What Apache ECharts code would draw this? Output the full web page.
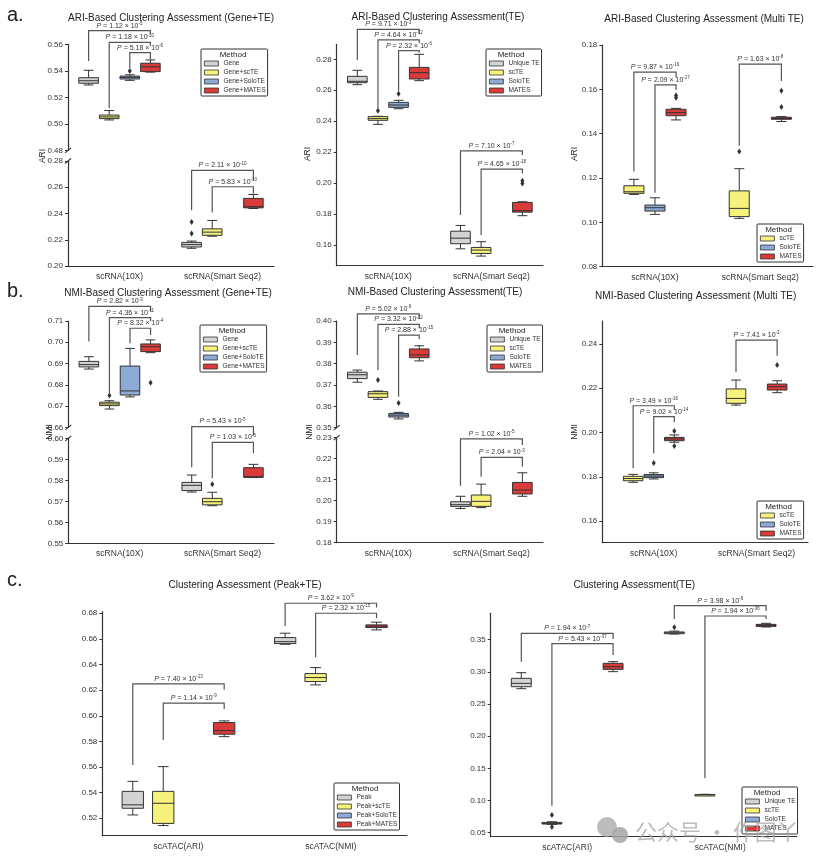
<!DOCTYPE html>
<html><head><meta charset="utf-8">
<script src="https://cdn.jsdelivr.net/npm/echarts@6/dist/echarts.min.js"></script>
<style>html,body{margin:0;padding:0;background:#fff}#c{width:818px;height:865px}</style>
</head><body><div id="c"></div>
<script>
// ---------------- DATA ----------------
const SCRNA_CATS = ['scRNA(10X)', 'scRNA(Smart Seq2)'];
const SCATAC_CATS = ['scATAC(ARI)', 'scATAC(NMI)'];
const GENE_METHODS = ['Gene', 'Gene+scTE', 'Gene+SoloTE', 'Gene+MATES'];
const TE_METHODS = ['Unique TE', 'scTE', 'SoloTE', 'MATES'];
const MULTI_METHODS = ['scTE', 'SoloTE', 'MATES'];
const PEAK_METHODS = ['Peak', 'Peak+scTE', 'Peak+SoloTE', 'Peak+MATES'];

// box stats per category: [min, q1, median, q3, max]
const A1_GENE   = [[0.5293,0.5306,0.5325,0.5348,0.5404],[0.2135,0.2145,0.2163,0.2180,0.2190]];
const A1_SCTE   = [[0.5029,0.5039,0.5052,0.5066,0.5100],[0.2227,0.2234,0.2258,0.2283,0.2347]];
const A1_SOLOTE = [[0.5328,0.5338,0.5350,0.5360,0.5370], null];
const A1_MATES  = [[0.5390,0.5394,0.5430,0.5457,0.5482],[0.2438,0.2443,0.2452,0.2515,0.2545]];
const A1_OUTLIERS = [[0,1,0.2247],[0,1,0.2336],[2,0,0.5398]]; // [method, category, value]
const A1_BRACKETS = [[0,0,3,0.5703,0.5474,0.5676],[0,1,3,0.5615,0.5117,0.5590],[0,2,3,0.5537,0.5419,0.5481],
                     [1,0,3,0.2729,0.2425,0.2655],[1,1,3,0.2604,0.2408,0.2553]]; // [cat, from, to, line, leftEnd, rightEnd]
const A1_PVALUES = [['1.12','-5'],['1.18','-10'],['5.18','-6'],['2.11','-10'],['5.83','-10']];
const A1_TICKS_UP = [0.48,0.50,0.52,0.54,0.56];
const A1_TICKS_LOW = [0.20,0.22,0.24,0.26,0.28];

const A2_UNIQUE = [[0.2636,0.2649,0.2658,0.2690,0.2729],[0.1576,0.1609,0.1645,0.1690,0.1727]];
const A2_SCTE   = [[0.2380,0.2406,0.2417,0.2430,0.2432],[0.1529,0.1546,0.1568,0.1585,0.1622]];
const A2_SOLOTE = [[0.2481,0.2490,0.2505,0.2522,0.2535], null];
const A2_MATES  = [[0.2662,0.2673,0.2714,0.2748,0.2832],[0.1790,0.1813,0.1822,0.1876,0.1880]];
const A2_OUTLIERS = [[1,0,0.2468],[2,0,0.2578],[3,1,0.2015],[3,1,0.1998]];
const A2_BRACKETS = [[0,0,3,0.2994,0.2796,0.2968],[0,1,3,0.2925,0.2483,0.2903],[0,2,3,0.2856,0.2597,0.2843],
                     [1,0,3,0.2208,0.1794,0.2182],[1,1,3,0.2091,0.1665,0.2063]];
const A2_PVALUES = [['9.71','-3'],['4.64','-12'],['2.32','-6'],['7.10','-7'],['4.65','-18']];
const A2_TICKS = [0.16,0.18,0.20,0.22,0.24,0.26,0.28];

const A3_SCTE   = [[0.1126,0.1131,0.1138,0.1165,0.1194],[0.1018,0.1026,0.1063,0.1142,0.1242]];
const A3_SOLOTE = [[0.1036,0.1051,0.1066,0.1078,0.1111], null];
const A3_MATES  = [[0.1462,0.1481,0.1495,0.1510,0.1514],[0.1455,0.1465,0.1469,0.1474,0.1477]];
const A3_OUTLIERS = [[2,0,0.1572],[2,0,0.1562],[0,1,0.1320],[2,1,0.1594],[2,1,0.1520]];
const A3_BRACKETS = [[0,0,2,0.1678,0.1229,0.1654],[0,1,2,0.1620,0.1134,0.1597],[1,0,2,0.1714,0.1346,0.1638]];
const A3_PVALUES = [['9.87','-16'],['2.09','-17'],['1.63','-8']];
const A3_TICKS = [0.08,0.10,0.12,0.14,0.16,0.18];

const B1_GENE   = [[0.6874,0.6884,0.6895,0.6910,0.6932],[0.5744,0.5751,0.5776,0.5790,0.5825]];
const B1_SCTE   = [[0.6686,0.6702,0.6710,0.6718,0.6725],[0.5679,0.5683,0.5698,0.5714,0.5743]];
const B1_SOLOTE = [[0.6743,0.6752,0.6771,0.6888,0.6971], null];
const B1_MATES  = [[0.6951,0.6956,0.6979,0.6992,0.7011],[0.5813,0.5814,0.5817,0.5860,0.5876]];
const B1_OUTLIERS = [[1,0,0.6749],[3,0,0.6810],[1,1,0.5781]];
const B1_BRACKETS = [[0,0,3,0.7169,0.7003,0.7147],[0,1,3,0.7116,0.6760,0.7100],[0,2,3,0.7066,0.6995,0.7034],
                     [1,0,3,0.6056,0.5862,0.6013],[1,1,3,0.5981,0.5810,0.5929]];
const B1_PVALUES = [['2.82','-3'],['4.36','-11'],['8.32','-4'],['5.43','-5'],['1.03','-5']];
const B1_TICKS_UP = [0.66,0.67,0.68,0.69,0.70,0.71];
const B1_TICKS_LOW = [0.55,0.56,0.57,0.58,0.59,0.60];

const B2_UNIQUE = [[0.3713,0.3730,0.3748,0.3760,0.3770],[0.1963,0.1973,0.1981,0.1995,0.2021]];
const B2_SCTE   = [[0.3633,0.3642,0.3659,0.3669,0.3672],[0.1967,0.1973,0.1997,0.2027,0.2079]];
const B2_SOLOTE = [[0.3541,0.3550,0.3559,0.3567,0.3572], null];
const B2_MATES  = [[0.3813,0.3828,0.3841,0.3869,0.3884],[0.2021,0.2032,0.2051,0.2087,0.2133]];
const B2_OUTLIERS = [[1,0,0.3723],[2,0,0.3616]];
const B2_BRACKETS = [[0,0,3,0.4033,0.3841,0.4009],[0,1,3,0.3984,0.3770,0.3966],[0,2,3,0.3934,0.3645,0.3916],
                     [1,0,3,0.2294,0.2071,0.2265],[1,1,3,0.2206,0.2114,0.2162]];
const B2_PVALUES = [['5.02','-9'],['3.32','-12'],['2.88','-15'],['1.02','-5'],['2.04','-3']];
const B2_TICKS_UP = [0.35,0.36,0.37,0.38,0.39,0.40];
const B2_TICKS_LOW = [0.18,0.19,0.20,0.21,0.22,0.23];

const B3_SCTE   = [[0.1775,0.1782,0.1792,0.1802,0.1811],[0.2124,0.2132,0.2154,0.2197,0.2237]];
const B3_SOLOTE = [[0.1790,0.1796,0.1803,0.1810,0.1818], null];
const B3_MATES  = [[0.1956,0.1963,0.1971,0.1978,0.1989],[0.2180,0.2192,0.2207,0.2219,0.2234]];
const B3_OUTLIERS = [[1,0,0.1862],[2,0,0.2007],[2,0,0.1939],[2,1,0.2305]];
const B3_BRACKETS = [[0,0,2,0.2121,0.1838,0.2102],[0,1,2,0.2072,0.1906,0.2046],[1,0,2,0.2418,0.2272,0.2347]];
const B3_PVALUES = [['3.49','-16'],['9.02','-14'],['7.41','-3']];
const B3_TICKS = [0.16,0.18,0.20,0.22,0.24];

const C1_PEAK   = [[0.5226,0.5278,0.5305,0.5410,0.5488],[0.6558,0.6563,0.6578,0.6610,0.6644]];
const C1_SCTE   = [[0.5143,0.5160,0.5317,0.5410,0.5603],[0.6241,0.6267,0.6298,0.6329,0.6376]];
const C1_SOLOTE = [null, null];
const C1_MATES  = [[0.5837,0.5856,0.5884,0.5947,0.5960],[0.6670,0.6688,0.6699,0.6709,0.6730]];
const C1_OUTLIERS = [];
const C1_BRACKETS = [[0,0,3,0.6248,0.5616,0.6202],[0,1,3,0.6098,0.5811,0.6053],
                     [1,0,3,0.6878,0.6701,0.6844],[1,1,3,0.6800,0.6457,0.6761]];
const C1_PVALUES = [['7.40','-13'],['1.14','-9'],['3.62','-9'],['2.32','-15']];
const C1_TICKS = [0.52,0.54,0.56,0.58,0.60,0.62,0.64,0.66,0.68];

const C2_UNIQUE = [[0.2738,0.2769,0.2821,0.2899,0.2987],[0.3588,0.3593,0.3607,0.3620,0.3633]];
const C2_SCTE   = [[0.0630,0.0635,0.0645,0.0660,0.0670],[0.1082,0.1085,0.1090,0.1094,0.1097]];
const C2_SOLOTE = [null, null];
const C2_MATES  = [[0.3003,0.3039,0.3080,0.3132,0.3158],[0.3697,0.3707,0.3722,0.3738,0.3754]];
const C2_OUTLIERS = [[1,0,0.0775],[1,0,0.0590],[0,1,0.3692]];
const C2_BRACKETS = [[0,0,3,0.3598,0.3158,0.3510],[0,1,3,0.3438,0.0920,0.3262],
                     [1,0,3,0.4028,0.3821,0.3946],[1,1,3,0.3868,0.1345,0.3821]];
const C2_PVALUES = [['1.94','-7'],['5.43','-37'],['3.98','-9'],['1.94','-36']];
const C2_TICKS = [0.05,0.10,0.15,0.20,0.25,0.30,0.35];

// ---------------- STYLE / LAYOUT ----------------
const FONT = '"Liberation Sans", Arial, Helvetica, sans-serif';
const GRAY = '#d3d3d3', YELLOW = '#f6f27c', BLUE = '#8eabd6', RED = '#d93b3b';
const METHOD_COLOR = {
  'Gene': GRAY, 'Unique TE': GRAY, 'Peak': GRAY,
  'Gene+scTE': YELLOW, 'scTE': YELLOW, 'Peak+scTE': YELLOW,
  'Gene+SoloTE': BLUE, 'SoloTE': BLUE, 'Peak+SoloTE': BLUE,
  'Gene+MATES': RED, 'MATES': RED, 'Peak+MATES': RED
};
const EDGE = '#333';
const AXIS = '#333';
const BRACKET = '#555';
const SLOT = 0.2;

const panels = [
  { cats: SCRNA_CATS, methods: GENE_METHODS, stats: [A1_GENE, A1_SCTE, A1_SOLOTE, A1_MATES],
    outliers: A1_OUTLIERS, brackets: A1_BRACKETS, pvals: A1_PVALUES, boxFrac: 0.19,
    grids: [{ left: 68, top: 44.3, width: 206, height: 106, min: 0.48, max: 0.56, ticks: A1_TICKS_UP, cats: [0] },
            { left: 68, top: 161, width: 206, height: 105, min: 0.20, max: 0.28, ticks: A1_TICKS_LOW, cats: [1] }],
    legend: { left: 201, top: 49, cx: 233 }, yName: ['ARI', 42.7, 156],
    title: ['ARI-Based Clustering Assessment (Gene+TE)', 171, 18] },
  { cats: SCRNA_CATS, methods: TE_METHODS, stats: [A2_UNIQUE, A2_SCTE, A2_SOLOTE, A2_MATES],
    outliers: A2_OUTLIERS, brackets: A2_BRACKETS, pvals: A2_PVALUES, boxFrac: 0.19,
    grids: [{ left: 336.7, top: 44.3, width: 206.3, height: 221.4, min: 0.1467, max: 0.2897, ticks: A2_TICKS, cats: [0, 1] }],
    legend: { left: 486, top: 49, cx: 511 }, yName: ['ARI', 308, 154],
    title: ['ARI-Based Clustering Assessment(TE)', 438, 17.7] },
  { cats: SCRNA_CATS, methods: MULTI_METHODS, stats: [A3_SCTE, A3_SOLOTE, A3_MATES],
    outliers: A3_OUTLIERS, brackets: A3_BRACKETS, pvals: A3_PVALUES, boxFrac: 0.19,
    grids: [{ left: 602.3, top: 45, width: 210.7, height: 221.7, min: 0.08, max: 0.18, ticks: A3_TICKS, cats: [0, 1] }],
    legend: { left: 757, top: 224, cx: 778.5 }, yName: ['ARI', 575, 154],
    title: ['ARI-Based Clustering Assessment (Multi TE)', 704, 19.3] },
  { cats: SCRNA_CATS, methods: GENE_METHODS, stats: [B1_GENE, B1_SCTE, B1_SOLOTE, B1_MATES],
    outliers: B1_OUTLIERS, brackets: B1_BRACKETS, pvals: B1_PVALUES, boxFrac: 0.19,
    grids: [{ left: 68.3, top: 321, width: 205.7, height: 106.3, min: 0.66, max: 0.71, ticks: B1_TICKS_UP, cats: [0] },
            { left: 68.3, top: 438.3, width: 205.7, height: 105, min: 0.55, max: 0.60, ticks: B1_TICKS_LOW, cats: [1] }],
    legend: { left: 200, top: 325, cx: 232 }, yName: ['NMI', 50, 432],
    title: ['NMI-Based Clustering Assessment (Gene+TE)', 168, 293.3] },
  { cats: SCRNA_CATS, methods: TE_METHODS, stats: [B2_UNIQUE, B2_SCTE, B2_SOLOTE, B2_MATES],
    outliers: B2_OUTLIERS, brackets: B2_BRACKETS, pvals: B2_PVALUES, boxFrac: 0.19,
    grids: [{ left: 336.7, top: 321, width: 206.3, height: 106.7, min: 0.35, max: 0.40, ticks: B2_TICKS_UP, cats: [0] },
            { left: 336.7, top: 437.7, width: 206.3, height: 105, min: 0.18, max: 0.23, ticks: B2_TICKS_LOW, cats: [1] }],
    legend: { left: 487, top: 325, cx: 512 }, yName: ['NMI', 310, 432],
    title: ['NMI-Based Clustering Assessment(TE)', 435, 292.3] },
  { cats: SCRNA_CATS, methods: MULTI_METHODS, stats: [B3_SCTE, B3_SOLOTE, B3_MATES],
    outliers: B3_OUTLIERS, brackets: B3_BRACKETS, pvals: B3_PVALUES, boxFrac: 0.19,
    grids: [{ left: 602.3, top: 321, width: 205.7, height: 221.7, min: 0.1502, max: 0.2504, ticks: B3_TICKS, cats: [0, 1] }],
    legend: { left: 757, top: 501, cx: 778.5 }, yName: ['NMI', 575, 432],
    title: ['NMI-Based Clustering Assessment (Multi TE)', 695.7, 296.7] },
  { cats: SCATAC_CATS, methods: PEAK_METHODS, stats: [C1_PEAK, C1_SCTE, C1_SOLOTE, C1_MATES],
    outliers: C1_OUTLIERS, brackets: C1_BRACKETS, pvals: C1_PVALUES, boxFrac: 0.14,
    grids: [{ left: 102.3, top: 611.7, width: 304.7, height: 224, min: 0.5064, max: 0.6812, ticks: C1_TICKS, cats: [0, 1] }],
    legend: { left: 334, top: 783, cx: 365 }, yName: null,
    title: ['Clustering Assessment (Peak+TE)', 245, 585] },
  { cats: SCATAC_CATS, methods: TE_METHODS, stats: [C2_UNIQUE, C2_SCTE, C2_SOLOTE, C2_MATES],
    outliers: C2_OUTLIERS, brackets: C2_BRACKETS, pvals: C2_PVALUES, boxFrac: 0.13,
    grids: [{ left: 490.7, top: 613.3, width: 306, height: 223.4, min: 0.0438, max: 0.391, ticks: C2_TICKS, cats: [0, 1] }],
    legend: { left: 742, top: 787, cx: 767 }, yName: null,
    title: ['Clustering Assessment(TE)', 634.3, 585.7] }
];

// ---------------- RENDERERS ----------------
function slotX(api, cat, slot, nSlots) {
  const bw = api.size([1, 0])[0];
  const c = api.coord([cat, 0])[0];
  return { x: c + (slot - (nSlots - 1) / 2) * SLOT * bw, bw: bw };
}
function makeBoxRender(slot, nSlots, boxFrac, color) {
  return function (params, api) {
    const cat = api.value(0);
    const s = slotX(api, cat, slot, nSlots);
    const cx = s.x, w = s.bw * boxFrac, cap = w / 4;
    const py = i => api.coord([cat, api.value(i)])[1];
    const yMin = py(1), yQ1 = py(2), yMed = py(3), yQ3 = py(4), yMax = py(5);
    const ls = { stroke: EDGE, lineWidth: 1 };
    return { type: 'group', children: [
      { type: 'line', shape: { x1: cx, y1: yMax, x2: cx, y2: yQ3 }, style: ls },
      { type: 'line', shape: { x1: cx, y1: yQ1, x2: cx, y2: yMin }, style: ls },
      { type: 'line', shape: { x1: cx - cap, y1: yMax, x2: cx + cap, y2: yMax }, style: ls },
      { type: 'line', shape: { x1: cx - cap, y1: yMin, x2: cx + cap, y2: yMin }, style: ls },
      { type: 'rect', shape: { x: cx - w / 2, y: yQ3, width: w, height: Math.max(yQ1 - yQ3, 1.5) },
        style: { fill: color, stroke: EDGE, lineWidth: 1 } },
      { type: 'line', shape: { x1: cx - w / 2, y1: yMed, x2: cx + w / 2, y2: yMed }, style: ls }
    ]};
  };
}
function makeOutlierRender(nSlots) {
  return function (params, api) {
    const cat = api.value(1);
    const s = slotX(api, cat, api.value(0), nSlots);
    const y = api.coord([cat, api.value(2)])[1];
    const x = s.x;
    return { type: 'polygon', shape: { points: [[x, y - 3], [x + 2, y], [x, y + 3], [x - 2, y]] },
             style: { fill: '#333' } };
  };
}
function makeBracketRender(nSlots, pvals) {
  return function (params, api) {
    const cat = api.value(0);
    const xl = slotX(api, cat, api.value(1), nSlots).x;
    const xr = slotX(api, cat, api.value(2), nSlots).x;
    const yl = api.coord([cat, api.value(3)])[1];
    const yLb = api.coord([cat, api.value(4)])[1];
    const yRb = api.coord([cat, api.value(5)])[1];
    const p = pvals[api.value(6)];
    return { type: 'group', children: [
      { type: 'polyline', shape: { points: [[xl, yLb], [xl, yl], [xr, yl], [xr, yRb]] },
        style: { stroke: BRACKET, lineWidth: 1.2, fill: null } },
      { type: 'text', x: (xl + xr) / 2, y: yl - 0.5,
        style: { text: '{i|P}{n| = ' + p[0] + ' × 10}{s|' + p[1] + '}', align: 'center', verticalAlign: 'bottom',
                 fill: '#333', fontFamily: FONT, fontSize: 7,
                 rich: { i: { fontStyle: 'italic', fontSize: 7, lineHeight: 9, fontFamily: FONT, fill: '#333' },
                         n: { fontSize: 7, lineHeight: 9, fontFamily: FONT, fill: '#333' },
                         s: { fontSize: 4.5, lineHeight: 5, verticalAlign: 'top', fontFamily: FONT, fill: '#333' } } } }
    ]};
  };
}

// ---------------- BUILD OPTION ----------------
const option = { animation: false, grid: [], xAxis: [], yAxis: [], legend: [], series: [], graphic: [] };
const G = option.graphic;
const txt = (text, x, y, size, extra) => G.push(Object.assign({ type: 'text', x: x, y: y, z: 50,
  style: { text: text, fontSize: size, fontFamily: FONT, fill: '#222', align: 'center', verticalAlign: 'middle' } }, extra || {}));

panels.forEach(p => {
  const nSlots = p.methods.length;
  p.grids.forEach((g, gi) => {
    const idx = option.grid.length;
    const isLast = gi === p.grids.length - 1;
    option.grid.push({ left: g.left, top: g.top, width: g.width, height: g.height });
    option.xAxis.push({ type: 'category', gridIndex: idx, data: p.cats, show: isLast,
      axisLine: { lineStyle: { color: AXIS, width: 1.2 } },
      axisTick: { alignWithLabel: true, length: 3, lineStyle: { color: AXIS } },
      axisLabel: { fontSize: 8.5, color: '#333', margin: 6, fontFamily: FONT },
      splitLine: { show: false } });
    option.yAxis.push({ type: 'value', gridIndex: idx, min: g.min, max: g.max,
      axisLine: { show: true, lineStyle: { color: AXIS, width: 1.2 } },
      axisTick: { show: true, length: 3, customValues: g.ticks, lineStyle: { color: AXIS } },
      axisLabel: { customValues: g.ticks, formatter: v => v.toFixed(2), fontSize: 8, color: '#333', margin: 5, fontFamily: FONT },
      splitLine: { show: false } });
    p.methods.forEach((m, mi) => {
      const data = g.cats.filter(c => p.stats[mi][c]).map(c => [c].concat(p.stats[mi][c]));
      option.series.push({ type: 'custom', name: m, xAxisIndex: idx, yAxisIndex: idx,
        itemStyle: { color: METHOD_COLOR[m] }, encode: { x: 0, y: [1, 2, 3, 4, 5] },
        renderItem: makeBoxRender(mi, nSlots, p.boxFrac, METHOD_COLOR[m]), data: data });
    });
    const outs = p.outliers.filter(o => g.cats.indexOf(o[1]) >= 0);
    option.series.push({ type: 'custom', name: 'outliers', xAxisIndex: idx, yAxisIndex: idx,
      encode: { x: 1, y: 2 }, renderItem: makeOutlierRender(nSlots), data: outs });
    const br = p.brackets.map((b, bi) => b.concat([bi])).filter(b => g.cats.indexOf(b[0]) >= 0);
    option.series.push({ type: 'custom', name: 'brackets', xAxisIndex: idx, yAxisIndex: idx, z: 5,
      encode: { x: 0, y: 3 }, renderItem: makeBracketRender(nSlots, p.pvals), data: br });
  });
  // broken-axis marks
  if (p.grids.length === 2) {
    const up = p.grids[0], lo = p.grids[1];
    [[up.left, up.top + up.height], [lo.left, lo.top]].forEach(pt => {
      G.push({ type: 'line', z: 50, shape: { x1: pt[0] - 3, y1: pt[1] + 2.5, x2: pt[0] + 3, y2: pt[1] - 2.5 },
               style: { stroke: AXIS, lineWidth: 1.1 } });
    });
  }
  // legend
  option.legend.push({ orient: 'vertical', left: p.legend.left, top: p.legend.top, padding: [11, 2, 2, 3],
    itemWidth: 14, itemHeight: 5, itemGap: 2, icon: 'rect', selectedMode: false,
    borderColor: '#333', borderWidth: 1, borderRadius: 1, backgroundColor: '#fff',
    itemStyle: { borderColor: '#333', borderWidth: 0.8 },
    textStyle: { fontSize: 6.6, color: '#333', fontFamily: FONT, lineHeight: 7 },
    data: p.methods });
  txt('Method', p.legend.cx, p.legend.top + 6, 8, { z: 60 });
  // title and axis name
  txt(p.title[0], p.title[1], p.title[2], 10);
  if (p.yName) txt(p.yName[0], p.yName[1], p.yName[2], 8.5, { rotation: Math.PI / 2 });
});

// panel letters
[['a.', 7, 15], ['b.', 7, 291], ['c.', 7, 580]].forEach(l =>
  G.push({ type: 'text', x: l[1], y: l[2], z: 50,
    style: { text: l[0], fontSize: 20, fontFamily: FONT, fill: '#222', align: 'left', verticalAlign: 'middle' } }));

// watermark
G.push({ type: 'circle', z: 100, shape: { cx: 607, cy: 827, r: 10 }, style: { fill: 'rgba(165,165,165,0.75)' } });
G.push({ type: 'circle', z: 100, shape: { cx: 620, cy: 835, r: 8 }, style: { fill: 'rgba(165,165,165,0.85)' } });
G.push({ type: 'text', z: 100, x: 635, y: 832,
  style: { text: '公众号 · 作图丫', fontSize: 22, fontFamily: '"Noto Sans CJK SC", sans-serif',
           fill: 'rgba(165,165,165,0.75)', align: 'left', verticalAlign: 'middle' } });

const chart = echarts.init(document.getElementById('c'), null, { renderer: 'canvas', width: 818, height: 865 });
chart.setOption(option);
</script></body></html>
